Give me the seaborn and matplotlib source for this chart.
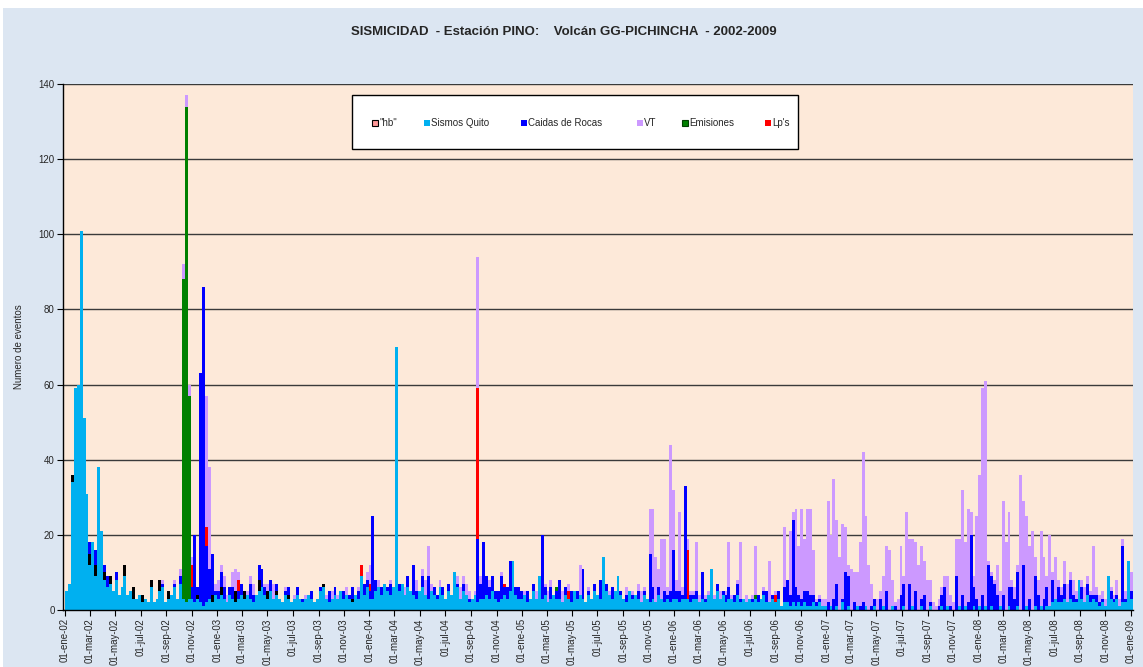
import matplotlib
matplotlib.use("Agg")
import matplotlib.pyplot as plt
import matplotlib.dates as mdates
from matplotlib.patches import Rectangle
import seaborn as sns
import pandas as pd
import numpy as np

# ----------------------------------------------------------------------
# Weekly counts (one row = 13 weeks, first week 01-ene-02)
# ----------------------------------------------------------------------
SQ_2002 = [5, 7, 34, 59, 60, 101, 51, 31, 12, 18, 9, 38, 21,
           8, 6, 7, 5, 8, 4, 6, 9, 4, 5, 3, 3, 4,
           2, 3, 2, 6, 2, 3, 5, 6, 2, 3, 4, 6, 3,
           7, 3, 2, 3, 3, 2, 3, 2, 1, 2, 3, 2, 4]
CR_2002 = [0, 0, 0, 0, 0, 0, 0, 0, 3, 0, 4, 0, 0,
           2, 3, 0, 0, 2, 0, 0, 0, 0, 0, 0, 0, 0,
           0, 0, 0, 0, 0, 0, 0, 1, 0, 0, 0, 1, 0,
           2, 0, 0, 0, 3, 18, 2, 61, 85, 15, 8, 11, 1]
VT_2002 = [0, 0, 0, 0, 0, 0, 0, 0, 0, 0, 0, 0, 0,
           0, 0, 0, 0, 0, 0, 0, 0, 0, 0, 0, 0, 0,
           0, 0, 0, 0, 0, 0, 0, 1, 0, 0, 0, 1, 0,
           2, 4, 3, 3, 2, 0, 0, 0, 0, 35, 27, 0, 2]

SQ_2003 = [3, 4, 3, 2, 4, 3, 2, 3, 4, 3, 4, 3, 2,
           4, 5, 6, 4, 3, 5, 3, 4, 3, 2, 4, 3, 2,
           3, 4, 3, 2, 3, 4, 3, 2, 3, 5, 6, 3, 2,
           3, 4, 3, 5, 3, 4, 3, 2, 4, 3, 9, 4, 6]
CR_2003 = [2, 4, 3, 0, 2, 3, 0, 2, 3, 0, 0, 4, 2,
           0, 4, 5, 2, 0, 3, 0, 2, 0, 0, 1, 2, 0,
           0, 2, 0, 1, 0, 0, 2, 0, 0, 1, 0, 0, 3,
           0, 2, 0, 0, 2, 0, 1, 3, 0, 2, 0, 3, 2]
VT_2003 = [3, 2, 3, 2, 0, 4, 6, 2, 0, 0, 1, 2, 3,
           0, 0, 0, 1, 2, 0, 4, 0, 0, 0, 1, 0, 0,
           1, 0, 0, 0, 1, 0, 0, 0, 0, 0, 0, 1, 0,
           2, 0, 1, 0, 0, 2, 0, 0, 0, 1, 0, 0, 2]

SQ_2004 = [3, 3, 5, 6, 4, 7, 5, 4, 6, 70, 5, 7, 4,
           6, 5, 4, 3, 5, 6, 4, 3, 5, 4, 3, 6, 4,
           3, 5, 4, 10, 6, 3, 5, 4, 2, 3, 4, 2, 3,
           3, 4, 3, 5, 3, 2, 3, 4, 3, 5, 13, 4, 3]
CR_2004 = [2, 22, 3, 0, 2, 0, 1, 3, 0, 0, 2, 0, 0,
           3, 0, 8, 2, 0, 3, 0, 6, 0, 2, 1, 0, 2,
           0, 2, 0, 0, 1, 0, 2, 0, 1, 0, 0, 17, 4,
           15, 5, 3, 4, 2, 3, 6, 2, 3, 8, 0, 2, 3]
VT_2004 = [5, 0, 0, 2, 0, 0, 0, 1, 0, 0, 0, 0, 2,
           0, 0, 0, 3, 0, 2, 4, 8, 2, 0, 0, 2, 0,
           0, 0, 0, 0, 2, 3, 2, 3, 2, 0, 1, 35, 2,
           0, 0, 2, 0, 0, 0, 1, 0, 0, 0, 0, 0, 0]

SQ_2005 = [3, 4, 2, 3, 5, 3, 9, 3, 4, 2, 3, 4, 3,
           3, 2, 4, 3, 2, 5, 3, 4, 3, 2, 4, 3, 5,
           4, 3, 14, 5, 4, 3, 5, 9, 4, 3, 2, 5, 3,
           4, 3, 2, 4, 3, 2, 3, 2, 4, 3, 2, 3, 2]
CR_2005 = [2, 0, 3, 0, 2, 0, 0, 17, 2, 0, 3, 0, 2,
           5, 0, 2, 0, 3, 0, 2, 0, 8, 0, 1, 0, 2,
           0, 5, 0, 2, 0, 3, 0, 0, 1, 0, 2, 0, 1,
           0, 2, 0, 1, 0, 13, 3, 0, 2, 0, 3, 1, 3]
VT_2005 = [0, 1, 0, 0, 0, 2, 0, 0, 1, 3, 2, 0, 0,
           0, 3, 0, 2, 0, 0, 0, 8, 0, 0, 1, 0, 0,
           0, 0, 0, 0, 1, 0, 0, 0, 0, 0, 2, 0, 1,
           0, 2, 3, 1, 0, 12, 21, 12, 5, 16, 14, 2, 39]

SQ_2006 = [3, 3, 2, 3, 3, 3, 2, 3, 3, 2, 3, 2, 4,
           11, 3, 5, 3, 4, 2, 3, 3, 2, 4, 2, 3, 2,
           3, 2, 3, 2, 3, 4, 2, 2, 3, 2, 3, 1, 2,
           2, 1, 2, 1, 2, 1, 2, 1, 1, 2, 1, 2, 1]
CR_2006 = [13, 2, 3, 1, 30, 0, 2, 1, 2, 0, 7, 1, 0,
           0, 0, 2, 0, 1, 2, 3, 0, 2, 3, 1, 0, 0,
           0, 1, 0, 2, 0, 1, 3, 0, 1, 0, 2, 0, 4,
           6, 3, 22, 5, 2, 2, 3, 4, 3, 2, 1, 1, 0]
VT_2006 = [16, 3, 21, 2, 0, 3, 1, 1, 13, 2, 0, 1, 1,
           0, 1, 0, 2, 0, 1, 12, 1, 0, 1, 15, 0, 2,
           0, 1, 13, 0, 0, 1, 0, 11, 0, 1, 0, 0, 16,
           0, 17, 2, 21, 13, 24, 14, 22, 23, 12, 1, 1, 2]

SQ_2007 = [1, 0, 1, 0, 1, 0, 2, 0, 1, 0, 0, 1, 0,
           0, 1, 0, 0, 1, 0, 0, 1, 0, 0, 1, 0, 0,
           0, 1, 0, 0, 1, 0, 0, 1, 0, 0, 1, 0, 0,
           0, 1, 0, 1, 0, 0, 0, 1, 0, 1, 0, 0, 1]
CR_2007 = [0, 2, 0, 3, 6, 0, 1, 10, 8, 0, 2, 0, 1,
           2, 0, 0, 1, 2, 0, 3, 0, 5, 0, 0, 1, 0,
           4, 6, 0, 7, 0, 5, 0, 2, 4, 0, 1, 0, 0,
           1, 3, 6, 0, 1, 0, 9, 0, 4, 0, 2, 20, 5]
VT_2007 = [2, 27, 19, 32, 17, 14, 20, 12, 3, 11, 8, 9, 17,
           40, 24, 12, 6, 0, 3, 2, 8, 12, 16, 7, 1, 3,
           13, 2, 26, 12, 18, 13, 12, 14, 9, 8, 6, 2, 1,
           2, 2, 3, 8, 3, 2, 10, 18, 28, 17, 25, 6, 3]

# 2008 block runs into the first days of 2009
SQ_2008 = [0, 1, 0, 1, 0, 1, 0, 0, 1, 0, 0, 1, 0,
           0, 1, 0, 0, 1, 0, 0, 1, 0, 1, 0, 1, 1,
           2, 3, 2, 2, 3, 2, 3, 2, 2, 8, 3, 2, 4,
           2, 3, 2, 1, 2, 1, 9, 3, 2, 3, 1, 2, 2,
           13, 3]
CR_2008 = [3, 0, 4, 0, 12, 8, 7, 4, 0, 4, 0, 5, 6,
           3, 9, 0, 12, 0, 3, 0, 8, 4, 0, 3, 5, 0,
           6, 0, 4, 2, 4, 0, 5, 2, 1, 0, 3, 0, 3,
           2, 1, 2, 1, 1, 0, 0, 2, 1, 1, 0, 15, 1,
           0, 2]
VT_2008 = [22, 35, 55, 60, 1, 1, 1, 8, 4, 25, 18, 20, 2,
           3, 2, 36, 17, 24, 14, 21, 5, 4, 20, 11, 3, 19,
           2, 11, 2, 2, 6, 5, 2, 4, 2, 0, 2, 4, 2,
           1, 13, 2, 2, 2, 2, 0, 1, 1, 4, 2, 2, 2,
           0, 5]

# sparse series: date -> events
HB_EVENTS = {
    "2002-01-20": 2, "2002-02-28": 3, "2002-03-14": 3, "2002-04-04": 2,
    "2002-04-18": 2, "2002-05-23": 3, "2002-06-13": 3, "2002-07-04": 2,
    "2002-07-25": 2, "2002-08-15": 3, "2002-09-05": 2, "2002-11-14": 1,
    "2002-12-19": 2, "2003-01-09": 2, "2003-02-13": 3, "2003-03-06": 2,
    "2003-04-10": 3, "2003-05-01": 2, "2003-05-22": 1, "2003-06-19": 1,
    "2003-09-11": 1, "2003-11-20": 1,
}
EMISIONES_EVENTS = {"2002-10-10": 85, "2002-10-17": 132, "2002-10-24": 54,
                    "2005-03-24": 1, "2006-07-13": 1}
LPS_EVENTS = {"2002-10-31": 6, "2002-12-05": 5, "2003-02-20": 3,
              "2003-12-11": 3, "2004-01-02": 2, "2004-09-15": 40,
              "2004-11-18": 1, "2005-04-21": 2, "2006-02-02": 13,
              "2006-09-01": 2}

SERIES = ['"hb"', "Sismos Quito", "Caidas de Rocas", "VT", "Emisiones", "Lp's"]
MESES = ["ene", "feb", "mar", "abr", "may", "jun",
         "jul", "ago", "sep", "oct", "nov", "dic"]
TITLE = "SISMICIDAD  - Estación PINO:    Volcán GG-PICHINCHA  - 2002-2009"

# ----------------------------------------------------------------------
# Style
# ----------------------------------------------------------------------
sns.set_theme(style="white")
plt.rcParams["font.family"] = ["Liberation Sans", "DejaVu Sans"]

COLORS = {'"hb"': "#000000", "Sismos Quito": "#00B0F0",
          "Caidas de Rocas": "#0000FF", "VT": "#CC99FF",
          "Emisiones": "#008000", "Lp's": "#FF0000"}
LEGEND_FACE = dict(COLORS, **{'"hb"': "#FF9999"})
LEGEND_EDGE = {'"hb"': "#000000", "Emisiones": "#004000"}
# bottom -> top stacking (seaborn stacks the last hue level at the bottom)
STACK_ORDER = ["VT", "Lp's", "Emisiones", "Caidas de Rocas", '"hb"', "Sismos Quito"]

# ----------------------------------------------------------------------
# Build weekly table
# ----------------------------------------------------------------------
sismos = SQ_2002 + SQ_2003 + SQ_2004 + SQ_2005 + SQ_2006 + SQ_2007 + SQ_2008
caidas = CR_2002 + CR_2003 + CR_2004 + CR_2005 + CR_2006 + CR_2007 + CR_2008
vt = VT_2002 + VT_2003 + VT_2004 + VT_2005 + VT_2006 + VT_2007 + VT_2008

start = pd.Timestamp("2002-01-01")
n_weeks = len(sismos)
edges = pd.date_range(start, periods=n_weeks + 1, freq="7D")
edge_num = mdates.date2num(edges.to_pydatetime())
centers = edge_num[:-1] + 3.5


def weekly(events):
    arr = np.zeros(n_weeks)
    for d, v in events.items():
        arr[(pd.Timestamp(d) - start).days // 7] += v
    return arr


values = {
    '"hb"': weekly(HB_EVENTS),
    "Sismos Quito": np.array(sismos, dtype=float),
    "Caidas de Rocas": np.array(caidas, dtype=float),
    "VT": np.array(vt, dtype=float),
    "Emisiones": weekly(EMISIONES_EVENTS),
    "Lp's": weekly(LPS_EVENTS),
}
df = pd.concat(
    [pd.DataFrame({"x": centers, "value": v, "serie": k}) for k, v in values.items()],
    ignore_index=True,
)

# ----------------------------------------------------------------------
# Figure
# ----------------------------------------------------------------------
W, H = 1143, 667
fig = plt.figure(figsize=(W / 100, H / 100), dpi=100)
fig.patch.set_facecolor("white")
fig.add_artist(Rectangle((3 / W, 0), 1, (H - 8) / H, transform=fig.transFigure,
                         facecolor="#DCE6F2", edgecolor="none", zorder=-5))

ax = fig.add_axes([63 / W, 57 / H, 1070 / W, 526 / H])
ax.set_facecolor("#FDE9D9")

sns.histplot(data=df, x="x", weights="value", hue="serie", hue_order=STACK_ORDER,
             multiple="stack", bins=list(edge_num), palette=COLORS, element="bars",
             fill=True, alpha=1, linewidth=0, legend=False, ax=ax)

ax.set_xlim(mdates.date2num(pd.Timestamp("2001-12-27")),
            mdates.date2num(pd.Timestamp("2009-01-06")))
ax.set_ylim(0, 140)
ax.set_yticks(range(0, 141, 20))
ax.yaxis.grid(True, color="#3a3a3a", linewidth=1.0)
ax.xaxis.grid(False)
ax.set_axisbelow(True)

tick_dates = pd.date_range("2002-01-01", "2009-01-01", freq="2MS")
ax.set_xticks(mdates.date2num(tick_dates.to_pydatetime()))
ax.set_xticklabels([f"01-{MESES[d.month - 1]}-{d:%y}" for d in tick_dates],
                   rotation=90)
ax.tick_params(axis="both", direction="out", length=4, width=0.8, color="black",
               labelsize=7, pad=2, left=True, bottom=True)

for side in ["top", "right"]:
    ax.spines[side].set_visible(False)
for side in ["left", "bottom"]:
    ax.spines[side].set_color("black")
    ax.spines[side].set_linewidth(1.0)

ax.set_xlabel("")
ax.set_ylabel("Numero de eventos", fontsize=7)
ax.yaxis.set_label_coords(-0.036, 0.5)

# legend box drawn by hand so the entries sit where the original has them
px = lambda x, y: (x / W, 1 - y / H)
fig.add_artist(Rectangle(px(352, 149), 446 / W, 54 / H, transform=fig.transFigure,
                         facecolor="white", edgecolor="black", linewidth=1.0, zorder=5))
entry_x = [372, 424, 521, 637, 682, 765]
for name, x0 in zip(SERIES, entry_x):
    fig.add_artist(Rectangle(px(x0, 126), 6 / W, 6 / H, transform=fig.transFigure,
                             facecolor=LEGEND_FACE[name],
                             edgecolor=LEGEND_EDGE.get(name, "none"),
                             linewidth=0.8, zorder=6))
    fig.text(*px(x0 + 7, 123), name, fontsize=7, ha="left", va="center", zorder=6)

fig.text(564 / W, 1 - 32 / H, TITLE, ha="center", va="center",
         fontsize=9.5, fontweight="bold")

fig.savefig("out.png", dpi=100, facecolor=fig.get_facecolor())
